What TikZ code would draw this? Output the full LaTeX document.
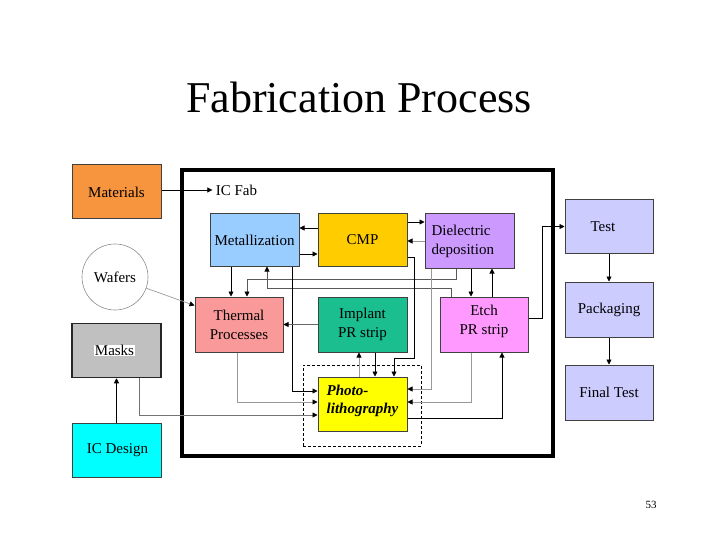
\documentclass[tikz,border=0pt]{standalone}
\usepackage{fontspec}
\setmainfont{Liberation Serif}
\usetikzlibrary{arrows.meta}

\definecolor{matorange}{RGB}{247,148,62}
\definecolor{maskgray}{RGB}{192,192,192}
\definecolor{designcyan}{RGB}{0,255,255}
\definecolor{metblue}{RGB}{153,204,255}
\definecolor{cmpgold}{RGB}{255,204,0}
\definecolor{diellilac}{RGB}{204,153,255}
\definecolor{thermpink}{RGB}{250,153,153}
\definecolor{implgreen}{RGB}{26,190,143}
\definecolor{etchpink}{RGB}{255,153,255}
\definecolor{photoyellow}{RGB}{255,255,0}
\definecolor{testblue}{RGB}{204,204,255}

\tikzset{
  proc/.style={draw=black!75, line width=1pt, minimum width=89pt, minimum height=54pt,
    inner sep=1pt, align=center, font=\fontsize{15pt}{19pt}\selectfont},
  flow/.style={-{Triangle[length=5pt,width=5pt]}, line width=0.7pt},
  faint/.style={flow, draw=black!40, -{Triangle[length=5pt,width=5pt,color=black]}},
}

\begin{document}
\begin{tikzpicture}[x=1pt,y=-1pt]
\useasboundingbox (0,0) rectangle (720,540);

\node (title) at (359, 97) [font=\fontsize{44pt}{48pt}\selectfont] {Fabrication Process};
\node (fab) at (367.5, 313) [draw, line width=3.5pt, minimum width=371pt, minimum height=286pt] {};
\node (litho) at (362, 405.5) [draw, line width=1pt, dash pattern=on 3pt off 2pt, minimum width=118pt, minimum height=81pt] {};

% outside the fab
\node (mat) at (116.5, 192) [proc, fill=matorange] {Materials};
\node (waf) at (115, 277) [circle, draw=black!45, line width=0.6pt, minimum size=66pt, font=\fontsize{15pt}{19pt}\selectfont] {Wafers};
\node (msk) at (116.5, 350.5) [proc, fill=maskgray, line width=1.5pt, draw=black!85] {\fboxsep=0.5pt\colorbox{white}{Masks}\hspace{4pt}};
\node (icd) at (116.5, 450.5) [proc, fill=designcyan] {\hspace{2pt}IC Design};
\node (icfab) at (236.5, 190) [font=\fontsize{15pt}{19pt}\selectfont] {IC Fab};

% process steps
\node (met) at (254.5, 240) [proc, fill=metblue, minimum height=52pt] {Metallization};
\node (cmp) at (362.5, 240) [proc, fill=cmpgold, minimum height=52pt] {CMP};
\node (diel) at (469.5, 241) [proc, fill=diellilac, align=left, text width=76pt] {Dielectric\\deposition};
\node (thm) at (239, 324.5) [proc, fill=thermpink, minimum width=88pt, minimum height=55pt] {Thermal\\Processes};
\node (imp) at (362.5, 324.5) [proc, fill=implgreen, minimum height=55pt] {Implant\\PR strip};
\node (etch) at (484, 324.5) [proc, fill=etchpink, minimum width=88pt, minimum height=55pt] {Etch\\PR strip\\[-10pt]\mbox{}};
\node (pho) at (362.5, 404) [proc, fill=photoyellow, align=left, font=\fontsize{15pt}{18pt}\selectfont\bfseries\itshape] {Photo-\\lithography\\[-8pt]\mbox{}};

% back end
\node (tst) at (609, 226.5) [proc, fill=testblue, minimum width=88pt, minimum height=53pt] {Test\hspace{12pt}};
\node (pck) at (609, 309.5) [proc, fill=testblue, minimum width=88pt, minimum height=55pt] {Packaging};
\node (fin) at (609, 392.5) [proc, fill=testblue, minimum width=88pt, minimum height=55pt] {Final Test};

\node (pg) at (651, 505) [font=\fontsize{11pt}{13pt}\selectfont] {53};

% channels
\coordinate (vA) at (231,0);
\coordinate (vB) at (247,0);
\coordinate (vC) at (267,0);
\coordinate (vD) at (292,0);
\coordinate (vE) at (237,0);
\coordinate (vF) at (139,0);
\coordinate (vG) at (456,0);
\coordinate (vH) at (451,0);
\coordinate (vI) at (375,0);
\coordinate (vJ) at (359,0);
\coordinate (vK) at (414,0);
\coordinate (vL) at (394,0);
\coordinate (vM) at (431,0);
\coordinate (vN) at (471,0);
\coordinate (vO) at (502,0);
\coordinate (vP) at (492,0);
\coordinate (vQ) at (542,0);
\coordinate (hA) at (0,279);
\coordinate (hB) at (0,288);
\coordinate (hC) at (0,257);
\coordinate (hD) at (0,358);
\coordinate (h1) at (0,391);
\coordinate (h2) at (0,402);
\coordinate (h3) at (0,415);
\coordinate (h4) at (0,389);
\coordinate (h5) at (0,418);
\coordinate (h6) at (0,318);

\draw [flow] (mat.east |- icfab) -- (icfab.west);
\draw [faint] (waf) -- ([yshift=-9pt]thm.north west);
\draw [flow] (icd.north) -- (msk.south);
\draw [faint, draw=black!55] (msk.south -| vF) -- (vF |- h3) -- (h3 -| pho.west);

\draw [flow] ([yshift=12pt]cmp.west) -- ([yshift=12pt]met.east);
\draw [flow] ([yshift=-14pt]met.east) -- ([yshift=-14pt]cmp.west);
\draw [flow] ([yshift=18pt]cmp.east) -- ([yshift=18pt]cmp.east -| diel.west);
\draw [faint] (diel.west) -- (diel.west -| cmp.east);

\draw [flow] (met.south -| vA) -- (thm.north -| vA);
\draw [faint, draw=black!65] (diel.south -| vG) -- (vG |- hA) -- (hA -| vB) -- (thm.north -| vB);
\draw [faint, draw=black!65] (etch.north -| vH) -- (vH |- hB) -- (hB -| vC) -- (met.south -| vC);
\draw [flow] (met.south -| vD) -- (vD |- h1) -- (h1 -| pho.west);
\draw [faint] (thm.south -| vE) -- (vE |- h2) -- (h2 -| pho.west);
\draw [faint, draw=black!60] (imp.west) -- (imp.west -| thm.east);

\draw [flow] (imp.south -| vI) -- (pho.north -| vI);
\draw [faint] (pho.north -| vJ) -- (imp.south -| vJ);
\draw [flow] (hC -| cmp.east) -- (hC -| vK) -- (vK |- hD) -- (hD -| vL) -- (pho.north -| vL);
\draw [faint] (diel.south -| vM) -- (vM |- h4) -- (h4 -| pho.east);
\draw [faint] (etch.south -| vN) -- (vN |- h2) -- (h2 -| pho.east);
\draw [flow] (h5 -| pho.east) -- (h5 -| vO) -- (etch.south -| vO);

\draw [flow] (diel.south -| vN) -- (etch.north -| vN);
\draw [flow, line width=1pt] (etch.north -| vP) -- (diel.south -| vP);
\draw [flow] (h6 -| etch.east) -- (h6 -| vQ) -- (vQ |- tst.west) -- (tst.west);
\draw [flow] (tst.south) -- (pck.north);
\draw [flow] (pck.south) -- (fin.north);
\end{tikzpicture}
\end{document}
